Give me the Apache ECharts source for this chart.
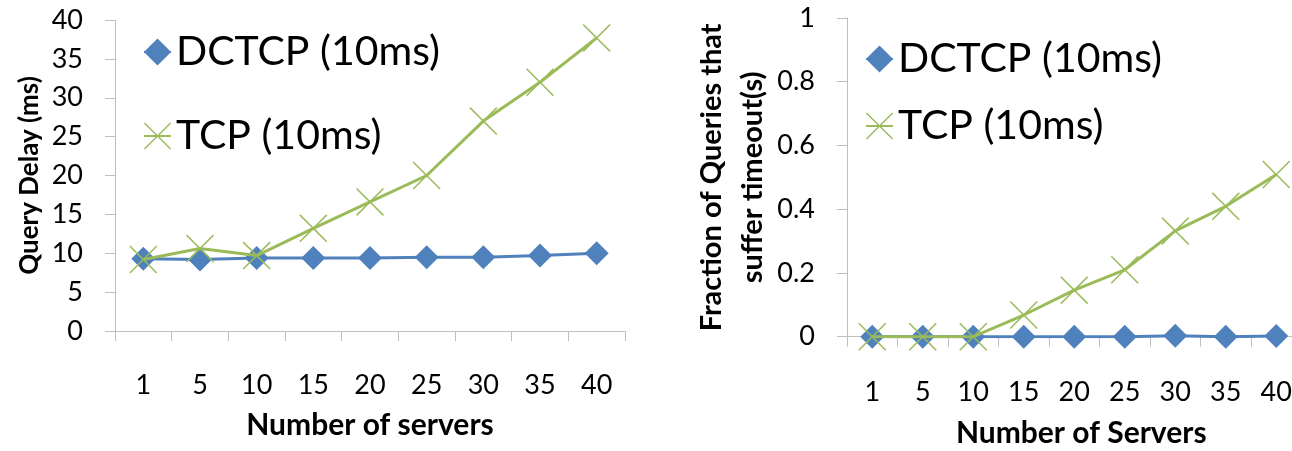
<!DOCTYPE html>
<html><head><meta charset="utf-8">
<script src="https://cdn.jsdelivr.net/npm/echarts@6/dist/echarts.min.js"></script>
<style>html,body{margin:0;padding:0;background:#fff}#c{width:1292px;height:451px}</style>
</head><body><div id="c"></div><script>
// ---- data ----
const categories = ['1', '5', '10', '15', '20', '25', '30', '35', '40'];
const seriesNames = ['DCTCP (10ms)', 'TCP (10ms)'];
const delayDCTCP = [9.3, 9.2, 9.4, 9.4, 9.4, 9.5, 9.5, 9.7, 10.0];
const delayTCP = [9.2, 10.6, 9.7, 13.2, 16.6, 20.0, 27.0, 32.0, 37.7];
const timeoutDCTCP = [0, 0, 0, 0, 0, 0, 0.003, 0, 0.002];
const timeoutTCP = [0, 0, 0, 0.068, 0.146, 0.21, 0.332, 0.409, 0.509];
const delayAxis = [0, 40, 5];      // min, max, interval
const timeoutAxis = [0, 1, 0.2];   // min, max, interval

// ---- style ----
const FONT = 'Lato';
const BLUE = '#4F81BD', GREEN = '#9BBB59', AXIS = '#BFBFBF';
const CROSS = 'path://M0,3.8L3.8,0L50,46.2L96.2,0L100,3.8L53.8,50L100,96.2L96.2,100L50,53.8L3.8,100L0,96.2L46.2,50Z';

function xAxisCfg(gridIndex, name, nameGap, pad, margin) {
  return {
    type: 'category', gridIndex, data: categories, boundaryGap: true,
    axisLine: { lineStyle: { color: AXIS, width: 1 } },
    axisTick: { show: true, length: 10, lineStyle: { color: AXIS } },
    axisLabel: { color: '#000', fontFamily: FONT, fontSize: 27, margin, interval: 0 },
    name, nameLocation: 'middle', nameGap,
    nameTextStyle: { color: '#000', fontFamily: FONT, fontSize: 30, fontWeight: 'bold', padding: pad }
  };
}
function yAxisCfg(gridIndex, cfg, name, nameGap, nameStyle) {
  return {
    type: 'value', gridIndex, min: cfg[0], max: cfg[1], interval: cfg[2],
    splitLine: { show: false },
    axisLine: { show: true, lineStyle: { color: AXIS, width: 1 } },
    axisTick: { show: true, length: 10, lineStyle: { color: AXIS } },
    axisLabel: { color: '#000', fontFamily: FONT, fontSize: 27, margin: 32 },
    name, nameLocation: 'middle', nameGap,
    nameTextStyle: Object.assign({ color: '#000', fontFamily: FONT, fontWeight: 'bold' }, nameStyle)
  };
}
function lineSeries(name, data, idx, kind) {
  const isDiamond = kind === 'diamond';
  return {
    name, type: 'line', data, xAxisIndex: idx, yAxisIndex: idx,
    symbol: isDiamond ? 'diamond' : CROSS,
    symbolSize: isDiamond ? 24 : 28,
    showAllSymbol: true,
    lineStyle: { color: isDiamond ? BLUE : GREEN, width: 3 },
    itemStyle: { color: isDiamond ? BLUE : GREEN },
    emphasis: { disabled: true },
    animation: false, z: isDiamond ? 2 : 3
  };
}
function legendCfg(left, top, gap) {
  return {
    orient: 'vertical', left, top, itemWidth: 27, itemHeight: 34, itemGap: gap,
    selectedMode: false,
    textStyle: { color: '#000', fontFamily: FONT, fontSize: 41, lineHeight: 42 },
    data: seriesNames
  };
}

const chart = echarts.init(document.getElementById('c'), null, { renderer: 'canvas' });
chart.setOption({
  backgroundColor: '#fff',
  animation: false,
  grid: [
    { left: 115, top: 20, width: 510, height: 311, containLabel: false, outerBoundsMode: 'none' },
    { left: 847, top: 18, width: 454.5, height: 318.7, containLabel: false, outerBoundsMode: 'none' }
  ],
  xAxis: [
    xAxisCfg(0, 'Number of servers', 79, [0, 0, 0, 0], 41),
    xAxisCfg(1, 'Number of Servers', 82, [0, 0, 0, 14], 42)
  ],
  yAxis: [
    yAxisCfg(0, delayAxis, 'Query Delay (ms)', 72, { fontSize: 26 }),
    yAxisCfg(1, timeoutAxis, 'Fraction of Queries that\nsuffer timeout(s)', 74,
      { fontSize: 29, lineHeight: 41, align: 'center' })
  ],
  legend: [
    Object.assign(legendCfg(138, 26, 42), { id: 'l0' }),
    Object.assign(legendCfg(860, 33, 25), { id: 'l1' })
  ],
  series: [
    lineSeries(seriesNames[0], delayDCTCP, 0, 'diamond'),
    lineSeries(seriesNames[1], delayTCP, 0, 'cross'),
    lineSeries(seriesNames[0], timeoutDCTCP, 1, 'diamond'),
    lineSeries(seriesNames[1], timeoutTCP, 1, 'cross')
  ]
});
</script></body></html>
